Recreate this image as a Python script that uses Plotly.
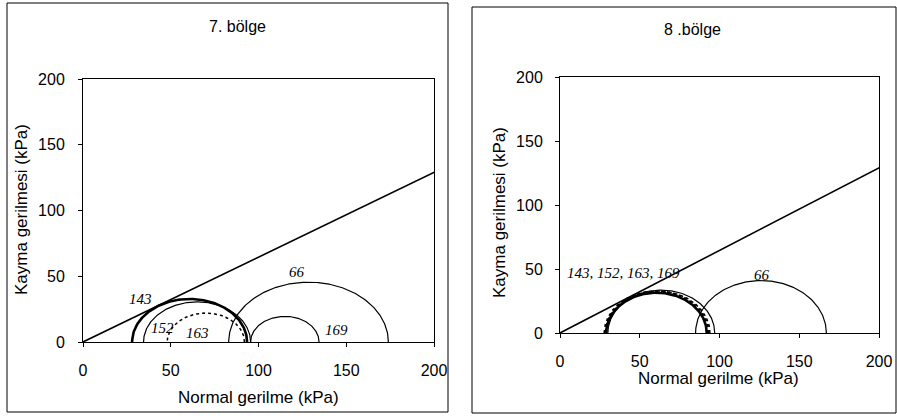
import numpy as np
import plotly.graph_objects as go

# ---------------- data ----------------
# Mohr circles: labels, minor (sigma3) and major (sigma1) principal stresses, kPa
left_labels = ["143", "152", "163", "66", "169"]
left_s3 = [28.0, 34.5, 48.0, 83.0, 95.5]
left_s1 = [93.5, 95.5, 92.0, 174.0, 134.5]
left_styles = ["thick", "thin", "dot", "thin", "thin"]

right_labels = ["143", "152", "163", "169", "66"]
right_s3 = [28.0, 29.0, 28.5, 30.0, 85.0]
right_s1 = [93.0, 92.0, 94.0, 97.0, 167.0]
right_styles = ["dotthick", "thick", "dot", "thin", "thin"]

# failure envelope tau = c + sigma * tan(phi)
env_c = [0.0, 0.0]
env_tan = [0.645, 0.645]
env_sigma = [0.0, 203.0]

ticks = [0, 50, 100, 150, 200]
titles = ["7. bölge", "8 .bölge"]
x_title = "Normal gerilme (kPa)"
y_title = "Kayma gerilmesi (kPa)"

# circle label positions (sigma, tau)
left_text = ["143", "152", "163", "66", "169"]
left_text_x = [32.5, 45.5, 65.5, 122.0, 144.5]
left_text_y = [33.0, 10.5, 6.5, 53.5, 9.0]
right_text = ["143, 152, 163, 169", "66"]
right_text_x = [40.0, 126.5]
right_text_y = [46.5, 45.5]

W, H = 897, 416

fig = go.Figure()

style_map = {
    "thick": dict(color="black", width=2.6, dash="solid"),
    "thin": dict(color="black", width=1.2, dash="solid"),
    "dot": dict(color="black", width=1.5, dash="dot"),
    "dotthick": dict(color="black", width=2.4, dash="dot"),
}

def add_circles(s3s, s1s, styles, names, xa, ya):
    t = np.linspace(0, np.pi, 181)
    for s3, s1, st, nm in zip(s3s, s1s, styles, names):
        c = (s3 + s1) / 2.0
        r = (s1 - s3) / 2.0
        fig.add_trace(go.Scatter(x=c + r * np.cos(t), y=r * np.sin(t), mode="lines",
                                 line=style_map[st], name=nm, showlegend=False,
                                 hoverinfo="skip", xaxis=xa, yaxis=ya))

add_circles(left_s3, left_s1, left_styles, left_labels, "x", "y")
add_circles(right_s3, right_s1, right_styles, right_labels, "x2", "y2")

for i, (xa, ya) in enumerate([("x", "y"), ("x2", "y2")]):
    xs = np.array(env_sigma)
    fig.add_trace(go.Scatter(x=xs, y=env_c[i] + env_tan[i] * xs, mode="lines",
                             line=dict(color="black", width=1.6), showlegend=False,
                             hoverinfo="skip", xaxis=xa, yaxis=ya))

# plot-area pixel boxes
L = dict(x0=83, x1=434, y0=79, y1=342)
R = dict(x0=560, x1=879, y0=77, y1=333)

ax_common = dict(range=[0, 200], tickvals=ticks, showgrid=False, zeroline=False,
                 showline=True, linecolor="black", linewidth=1, mirror=True,
                 ticks="outside", ticklen=4, tickcolor="black", automargin=False,
                 tickfont=dict(family="Liberation Sans, Arial", size=16, color="black"))

fig.update_layout(
    width=W, height=H, margin=dict(l=0, r=0, t=0, b=0, autoexpand=False),
    paper_bgcolor="white", plot_bgcolor="white",
    xaxis=dict(domain=[L["x0"] / W, L["x1"] / W], anchor="y", ticklabelstandoff=10, **ax_common),
    yaxis=dict(domain=[1 - L["y1"] / H, 1 - L["y0"] / H], anchor="x", ticklabelstandoff=10, **ax_common),
    xaxis2=dict(domain=[R["x0"] / W, R["x1"] / W], anchor="y2", ticklabelstandoff=10, **ax_common),
    yaxis2=dict(domain=[1 - R["y1"] / H, 1 - R["y0"] / H], anchor="x2", ticklabelstandoff=9, **ax_common),
)

# outer panel frames
fig.add_shape(type="rect", xref="paper", yref="paper", x0=7 / W, x1=448 / W,
              y0=1 - 412 / H, y1=1 - 3 / H, line=dict(color="black", width=1))
fig.add_shape(type="rect", xref="paper", yref="paper", x0=472 / W, x1=896 / W,
              y0=1 - 413 / H, y1=1 - 7 / H, line=dict(color="black", width=1))

sans = "Liberation Sans, Arial"
serif = "Liberation Serif, Times New Roman, serif"

def ann(x, y, text, size, angle=0, family=sans):
    fig.add_annotation(x=x / W, y=1 - y / H, xref="paper", yref="paper", text=text,
                       showarrow=False, textangle=angle, xanchor="center", yanchor="middle",
                       font=dict(family=family, size=size, color="black"))

ann(237, 27, titles[0], 16)
ann(692, 30, titles[1], 16)
ann(258, 397, x_title, 17)
ann(718, 378, x_title, 17)
ann(21, 210, y_title, 17, angle=-90)
ann(500, 213, y_title, 17, angle=-90)

for t, x, y in zip(left_text, left_text_x, left_text_y):
    fig.add_annotation(x=x, y=y, xref="x", yref="y", text="<i>" + t + "</i>", showarrow=False,
                       font=dict(family=serif, size=15, color="black"))
for t, x, y in zip(right_text, right_text_x, right_text_y):
    fig.add_annotation(x=x, y=y, xref="x2", yref="y2", text="<i>" + t + "</i>", showarrow=False,
                       font=dict(family=serif, size=15, color="black"))

fig.write_html("out.html", config={"displayModeBar": False},
               post_script="document.body.style.margin='0';document.body.style.overflow='hidden';")
